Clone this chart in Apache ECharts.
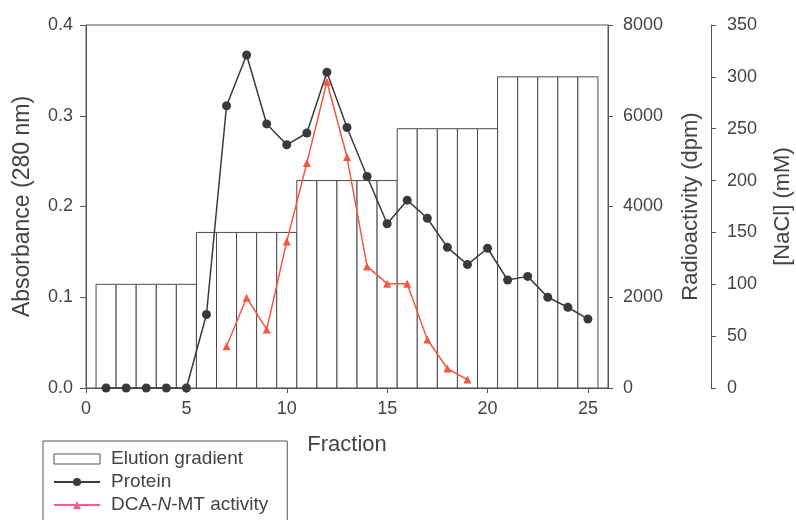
<!DOCTYPE html>
<html>
<head>
<meta charset="utf-8">
<script src="https://cdn.jsdelivr.net/npm/echarts@6/dist/echarts.min.js"></script>
<style>html,body{margin:0;padding:0;background:#fff}#c{width:796px;height:520px}</style>
</head>
<body>
<div id="c"></div>
<script>
const fractions = [1,2,3,4,5,6,7,8,9,10,11,12,13,14,15,16,17,18,19,20,21,22,23,24,25];
const naclGradient = [100,100,100,100,100,150,150,150,150,150,200,200,200,200,200,250,250,250,250,250,300,300,300,300,300];
const protein = [0,0,0,0,0,0.081,0.311,0.367,0.291,0.268,0.281,0.348,0.287,0.233,0.181,0.207,0.187,0.155,0.136,0.154,0.119,0.123,0.100,0.089,0.076];
const activityFractions = [7,8,9,10,11,12,13,14,15,16,17,18,19];
const activity = [920,1990,1290,3230,4960,6750,5090,2680,2300,2300,1070,430,185];

const FONT = 'Liberation Sans, Arial, sans-serif';
const TXT = '#444';
const AX = '#555';

const chart = echarts.init(document.getElementById('c'), null, {renderer: 'canvas'});
const axisCommon = {
  axisLine: {show: true, lineStyle: {color: AX, width: 1}},
  axisTick: {show: true, inside: false, length: 5, lineStyle: {color: AX}},
  splitLine: {show: false},
  axisLabel: {color: TXT, fontSize: 18, fontFamily: FONT, formatter: v => String(v)},
  nameTextStyle: {color: TXT, fontSize: 22, fontFamily: FONT}
};
chart.setOption({
  animation: false,
  backgroundColor: '#fff',
  grid: {left: 86, right: 188, top: 25, bottom: 132, containLabel: false, outerBoundsMode: 'none',
    show: true, borderColor: AX, borderWidth: 1, backgroundColor: 'transparent'},
  legend: {
    orient: 'vertical', left: 43, top: 441, height: 120, width: 260,
    padding: [8, 19, 30, 10],
    itemWidth: 46, itemHeight: 10, itemGap: 3,
    borderColor: AX, borderWidth: 1,
    textStyle: {color: TXT, fontSize: 19, fontFamily: FONT, lineHeight: 20, padding: [0,0,0,6],
      rich: {i: {fontStyle: 'italic', fontSize: 19, fontFamily: FONT, color: TXT}}},
    formatter: function (n) { return n === 'DCA-N-MT activity' ? 'DCA-{i|N}-MT activity' : n; },
    data: [
      {name: 'Elution gradient', icon: 'rect', itemStyle: {color: '#fff', borderColor: AX, borderWidth: 1}},
      {name: 'Protein'},
      {name: 'DCA-N-MT activity', itemStyle: {color: '#ef5f96'}, lineStyle: {color: '#ef5f96'}}
    ]
  },
  xAxis: Object.assign({}, axisCommon, {
    type: 'value', min: 0, max: 26, interval: 5,
    name: 'Fraction', nameLocation: 'middle', nameGap: 46,
    axisLabel: Object.assign({}, axisCommon.axisLabel, {margin: 12, showMaxLabel: false}),
    axisTick: {show: true, length: 5, lineStyle: {color: AX}}
  }),
  yAxis: [
    Object.assign({}, axisCommon, {
      type: 'value', min: 0, max: 0.4, interval: 0.1, position: 'left',
      name: 'Absorbance (280 nm)', nameLocation: 'middle', nameGap: 52, nameRotate: 90,
      nameTextStyle: {color: TXT, fontSize: 23, fontFamily: FONT},
      axisTick: {show: true, length: 6, lineStyle: {color: AX}},
      axisLabel: Object.assign({}, axisCommon.axisLabel, {margin: 13, formatter: v => v.toFixed(1)})
    }),
    Object.assign({}, axisCommon, {
      type: 'value', min: 0, max: 8000, interval: 2000, position: 'right', offset: 0,
      name: 'Radioactivity (dpm)', nameLocation: 'middle', nameGap: 72, nameRotate: 90,
      axisLabel: Object.assign({}, axisCommon.axisLabel, {margin: 15})
    }),
    Object.assign({}, axisCommon, {
      type: 'value', min: 0, max: 350, interval: 50, position: 'right', offset: 103,
      name: '[NaCl] (mM)', nameLocation: 'middle', nameGap: 61, nameRotate: 90,
      axisLabel: Object.assign({}, axisCommon.axisLabel, {margin: 16})
    })
  ],
  series: [
    {
      name: 'Elution gradient', type: 'custom', xAxisIndex: 0, yAxisIndex: 2, z: 1,
      itemStyle: {color: '#fff', borderColor: AX},
      data: fractions.map((f, i) => [f, naclGradient[i]]),
      renderItem: function (params, api) {
        const x = api.value(0), y = api.value(1);
        const p0 = api.coord([x - 0.5, y]);
        const p1 = api.coord([x + 0.5, 0]);
        return {type: 'rect', shape: {x: p0[0], y: p0[1], width: p1[0] - p0[0], height: p1[1] - p0[1]},
          style: {fill: '#fff', stroke: '#4a4a4a', lineWidth: 1}};
      }
    },
    {
      name: 'Protein', type: 'line', xAxisIndex: 0, yAxisIndex: 0, z: 3,
      data: fractions.map((f, i) => [f, protein[i]]),
      symbol: 'circle', symbolSize: 9,
      lineStyle: {color: '#3a3a3a', width: 1.5},
      itemStyle: {color: '#3a3a3a'}
    },
    {
      name: 'DCA-N-MT activity', type: 'line', xAxisIndex: 0, yAxisIndex: 1, z: 4,
      data: activityFractions.map((f, i) => [f, activity[i]]),
      symbol: 'triangle', symbolSize: 8,
      lineStyle: {color: '#f4583f', width: 1.5},
      itemStyle: {color: '#f4583f'}
    }
  ]
});
</script>
</body>
</html>
